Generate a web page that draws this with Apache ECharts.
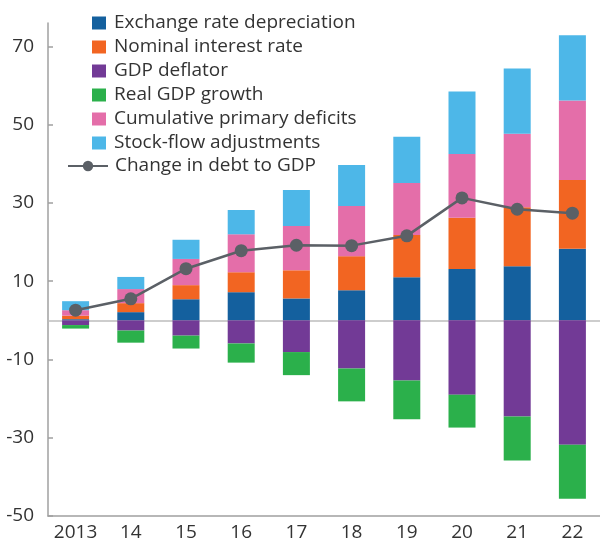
<!DOCTYPE html>
<html>
<head>
<meta charset="utf-8">
<style>
  html, body { margin: 0; padding: 0; background: #fff; }
  #chart { width: 600px; height: 544px; }
</style>
<script src="https://cdn.jsdelivr.net/npm/echarts@6/dist/echarts.min.js"></script>
</head>
<body>
<div id="chart"></div>
<script>
// categories and values (percent of GDP)
var years = ['2013', '14', '15', '16', '17', '18', '19', '20', '21', '22'];
var exchangeRate = [0.3, 2.1, 5.4, 7.2, 5.6, 7.7, 11.0, 13.1, 13.8, 18.3];
var nominalRate = [0.9, 2.3, 3.6, 5.1, 7.2, 8.7, 10.8, 13.1, 15.1, 17.6];
var gdpDeflator = [-1.2, -2.6, -3.9, -5.9, -8.1, -12.3, -15.4, -19.0, -24.6, -31.8];
var realGrowth = [-0.9, -3.1, -3.3, -4.9, -5.9, -8.4, -9.9, -8.4, -11.2, -13.8];
var primaryDeficits = [1.4, 3.6, 6.7, 9.7, 11.3, 12.8, 13.3, 16.3, 18.8, 20.3];
var stockFlow = [2.3, 3.1, 4.9, 6.2, 9.2, 10.5, 11.8, 16.0, 16.7, 16.7];
var debtChange = [2.6, 5.5, 13.2, 17.8, 19.2, 19.1, 21.6, 31.3, 28.4, 27.4];
var yTicks = [-50, -30, -10, 10, 30, 50, 70];

var chart = echarts.init(document.getElementById('chart'));
var font = 'Open Sans';
var textColor = '#333';

function bar(name, data, color) {
  return {
    name: name,
    type: 'bar',
    stack: 'total',
    barWidth: 27,
    itemStyle: { color: color },
    data: data
  };
}

chart.setOption({
  animation: false,
  textStyle: { fontFamily: font },
  grid: { left: 48, top: 23, bottom: 28, width: 564 },
  legend: [{
    orient: 'vertical',
    left: 87,
    top: 8,
    itemWidth: 14,
    itemHeight: 13,
    itemGap: 4,
    icon: 'rect',
    textStyle: { fontSize: 19, color: textColor, lineHeight: 20, padding: [0, 0, 0, 3] },
    data: ['Exchange rate depreciation', 'Nominal interest rate', 'GDP deflator',
      'Real GDP growth', 'Cumulative primary deficits', 'Stock-flow adjustments']
  }, {
    orient: 'vertical',
    left: 62,
    top: 151,
    itemWidth: 40,
    itemHeight: 13,
    textStyle: { fontSize: 19, color: textColor, lineHeight: 20, padding: [0, 0, 0, 2] },
    data: ['Change in debt to GDP']
  }],
  xAxis: {
    type: 'category',
    data: years,
    axisLine: { onZero: false, lineStyle: { color: '#a0a0a0', width: 1.5 } },
    axisTick: { inside: true, length: 6, interval: 0, lineStyle: { color: '#a0a0a0', width: 1.5 } },
    axisLabel: { fontSize: 19, color: textColor, margin: 7, interval: 0 }
  },
  yAxis: {
    type: 'value',
    min: -50,
    max: 76,
    interval: 20,
    splitLine: { show: false },
    axisLine: { show: true, lineStyle: { color: '#a0a0a0', width: 1.5 } },
    axisTick: { show: true, inside: true, length: 5, customValues: yTicks,
      lineStyle: { color: '#a0a0a0', width: 1.5 } },
    axisLabel: { fontSize: 19, color: textColor, margin: 14, customValues: yTicks }
  },
  series: [
    bar('Exchange rate depreciation', exchangeRate, '#14609e'),
    bar('Nominal interest rate', nominalRate, '#f26522'),
    bar('GDP deflator', gdpDeflator, '#723a96'),
    bar('Real GDP growth', realGrowth, '#2bb04b'),
    bar('Cumulative primary deficits', primaryDeficits, '#e46ea9'),
    bar('Stock-flow adjustments', stockFlow, '#4db7e8'),
    {
      name: 'Change in debt to GDP',
      type: 'line',
      data: debtChange,
      symbol: 'circle',
      symbolSize: 13,
      z: 5,
      lineStyle: { color: '#5b6066', width: 2.5 },
      itemStyle: { color: '#5b6066' },
      markLine: {
        silent: true,
        symbol: 'none',
        label: { show: false },
        lineStyle: { color: '#bdbdbd', type: 'solid', width: 1.5 },
        data: [{ yAxis: 0 }],
        z: 1
      }
    }
  ]
});
</script>
</body>
</html>
